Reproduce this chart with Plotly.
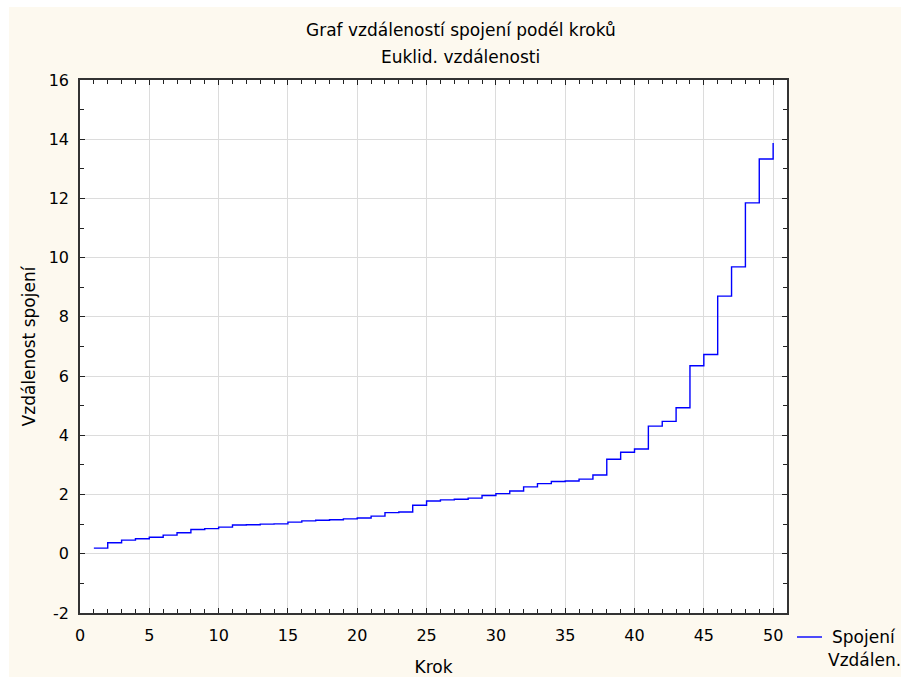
import plotly.graph_objects as go

# Data
kroky = list(range(1, 51))
vzdalenosti = [
    0.19, 0.37, 0.46, 0.51, 0.56, 0.63, 0.71, 0.82, 0.85, 0.90,
    0.97, 0.98, 1.00, 1.01, 1.07, 1.11, 1.13, 1.15, 1.18, 1.21,
    1.27, 1.39, 1.41, 1.64, 1.78, 1.82, 1.84, 1.88, 1.97, 2.03,
    2.12, 2.26, 2.37, 2.44, 2.46, 2.52, 2.66, 3.19, 3.43, 3.54,
    4.31, 4.47, 4.93, 6.35, 6.73, 8.70, 9.69, 11.85, 13.33, 13.87,
]
x_ticks = [0, 5, 10, 15, 20, 25, 30, 35, 40, 45, 50]
y_ticks = [-2, 0, 2, 4, 6, 8, 10, 12, 14, 16]

FONT = "DejaVu Sans"
CREAM = "#FDF9EF"
BLUE = "#0000FF"

W, H = 901, 677
L, R, T, B = 80, 787, 80, 613

def px(x):
    return (x - L) / (R - L)

def py(y):
    return (B - y) / (B - T)

fig = go.Figure()
fig.add_trace(go.Scatter(
    x=kroky, y=vzdalenosti, mode="lines", line_shape="hv",
    line=dict(color=BLUE, width=1.4), name="Spojení Vzdálen.",
    showlegend=False, hoverinfo="x+y",
))

axis_common = dict(
    showline=True, linecolor="#333333", linewidth=1.6, mirror="allticks",
    ticks="inside", ticklen=5, tickcolor="#222222", tickwidth=1,
    showgrid=True, gridcolor="#DCDCDC", gridwidth=1, zeroline=False,
    tickfont=dict(family=FONT, size=16, color="#000000"),
    minor=dict(ticks="inside", ticklen=4, tickcolor="#222222", showgrid=False),
    automargin=False,
)

fig.update_xaxes(
    range=[0, 51], tickvals=x_ticks, ticktext=[str(v) for v in x_ticks],
    minor_dtick=1, ticklabelstandoff=7,
    title=dict(text="Krok", font=dict(family=FONT, size=17, color="#000"), standoff=18),
    **axis_common,
)
fig.update_yaxes(
    range=[-2, 16], tickvals=y_ticks, ticktext=[str(v) for v in y_ticks],
    minor_dtick=1, ticklabelstandoff=6,
    title=dict(text="Vzdálenost spojení", font=dict(family=FONT, size=17, color="#000"), standoff=9),
    **axis_common,
)

shapes = [
    # white strips outside the cream frame
    dict(type="rect", xref="paper", yref="paper", x0=px(-10), x1=px(9), y0=py(H + 10), y1=py(-10),
         fillcolor="white", line_width=0, layer="below"),
    dict(type="rect", xref="paper", yref="paper", x0=px(-10), x1=px(W + 10), y0=py(7), y1=py(-10),
         fillcolor="white", line_width=0, layer="below"),
    # legend sample line
    dict(type="line", xref="paper", yref="paper", x0=px(797), x1=px(822), y0=py(637), y1=py(637),
         line=dict(color=BLUE, width=1.4)),
]

annotations = [
    dict(text="Graf vzdáleností spojení podél kroků", xref="paper", yref="paper",
         x=px(461), y=py(30), xanchor="center", yanchor="middle", showarrow=False,
         font=dict(family=FONT, size=17, color="#000")),
    dict(text="Euklid. vzdálenosti", xref="paper", yref="paper",
         x=px(461), y=py(57), xanchor="center", yanchor="middle", showarrow=False,
         font=dict(family=FONT, size=17, color="#000")),
    dict(text="Spojení", xref="paper", yref="paper",
         x=px(864), y=py(637), xanchor="center", yanchor="middle", showarrow=False,
         borderpad=0, font=dict(family=FONT, size=17, color="#000")),
    dict(text="Vzdálen.", xref="paper", yref="paper",
         x=px(864), y=py(660), xanchor="center", yanchor="middle", showarrow=False,
         borderpad=0, font=dict(family=FONT, size=17, color="#000")),
]

fig.update_layout(
    width=W, height=H,
    margin=dict(l=L, r=W - R, t=T, b=H - B, pad=0, autoexpand=False),
    paper_bgcolor=CREAM, plot_bgcolor="white",
    shapes=shapes, annotations=annotations,
    showlegend=False,
)

fig.write_html("out.html")
